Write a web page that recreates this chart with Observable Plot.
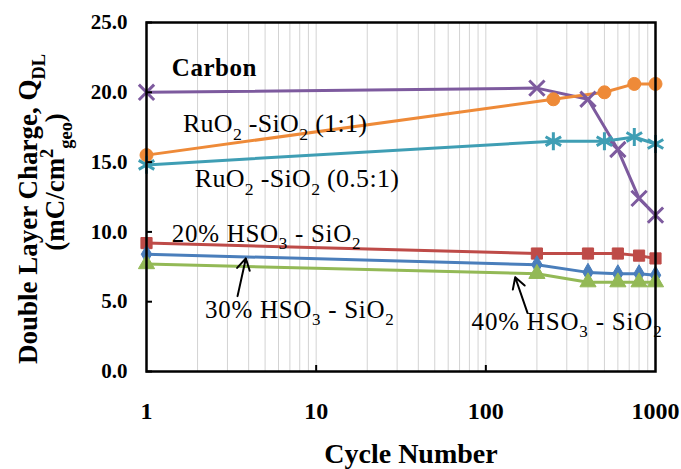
<!DOCTYPE html>
<html>
<head>
<meta charset="utf-8">
<script src="https://cdn.jsdelivr.net/npm/d3@7"></script>
<script src="https://cdn.jsdelivr.net/npm/@observablehq/plot@0.6"></script>
<style>
  html, body { margin: 0; padding: 0; background: #fff; }
  #chart svg { display: block; }
  #chart svg, #chart svg text, #chart svg tspan { font-family: "Liberation Serif" !important; }
</style>
</head>
<body>
<div id="chart"></div>
<script>
// ---- Data ----
const carbonCycles = [1, 200, 400, 600, 800, 1000];
const carbonQ      = [20.0, 20.3, 19.5, 15.9, 12.4, 11.2];

const ruo2_11Cycles = [1, 250, 500, 750, 1000];
const ruo2_11Q      = [15.5, 19.5, 20.0, 20.6, 20.6];

const ruo2_051Cycles = [1, 250, 500, 750, 1000];
const ruo2_051Q      = [14.8, 16.5, 16.5, 16.8, 16.3];

const hsoCycles = [1, 200, 400, 600, 800, 1000];
const hso20Q    = [9.2, 8.45, 8.45, 8.45, 8.3, 8.1];
const hso30Q    = [8.4, 7.65, 7.1, 7.0, 7.0, 6.9];
const hso40Q    = [7.7, 7.0, 6.4, 6.4, 6.4, 6.4];

const yTicks = [0, 5, 10, 15, 20, 25];
const xTicks = [1, 10, 100, 1000];
const xMinorGrid = [2,3,4,5,6,7,8,9,10,20,30,40,50,60,70,80,90,100,200,300,400,500,600,700,800,900];

const series = [
  {name: "Carbon",            cycles: carbonCycles,   q: carbonQ,   color: "#7D5A9E", symbol: "times",    r: 7,   stroked: true},
  {name: "RuO2-SiO2 (1:1)",   cycles: ruo2_11Cycles,  q: ruo2_11Q,  color: "#EE8A38", symbol: "circle",   r: 6.5},
  {name: "RuO2-SiO2 (0.5:1)", cycles: ruo2_051Cycles, q: ruo2_051Q, color: "#3F9EB4", symbol: "asterisk", r: 8.5, stroked: true},
  {name: "20% HSO3 - SiO2",   cycles: hsoCycles,      q: hso20Q,    color: "#BE4B48", symbol: "square",   r: 6.3},
  {name: "30% HSO3 - SiO2",   cycles: hsoCycles,      q: hso30Q,    color: "#4A7EBB", symbol: "diamond",  r: 5.5},
  {name: "40% HSO3 - SiO2",   cycles: hsoCycles,      q: hso40Q,    color: "#93B956", symbol: "triangle", r: 6}
];

// Annotation labels (anchored in data coordinates) and arrows
const labels = [
  {x: 1.42, y: 21.1, size: 25, spacing: 0.5, weight: "bold",   parts: [["Carbon"]]},
  {x: 1.65, y: 17.1, size: 26, spacing: 0.3, weight: "normal", parts: [["RuO"], ["2", "sub"], [" -SiO"], ["2", "sub"], [" (1:1)"]]},
  {x: 1.94, y: 13.2, size: 26, spacing: 0.3, weight: "normal", parts: [["RuO"], ["2", "sub"], [" -SiO"], ["2", "sub"], [" (0.5:1)"]]},
  {x: 1.42, y: 9.25, size: 25, spacing: 0.7, weight: "normal", parts: [["20% HSO"], ["3", "sub"], [" - SiO"], ["2", "sub"]]},
  {x: 2.23, y: 3.8,  size: 25, spacing: 0.7, weight: "normal", parts: [["30% HSO"], ["3", "sub"], [" - SiO"], ["2", "sub"]]},
  {x: 83,   y: 2.95, size: 25, spacing: 0.8, weight: "normal", parts: [["40% HSO"], ["3", "sub"], [" - SiO"], ["2", "sub"]]}
];
const arrows = [
  {x1: 3.44, y1: 5.4, x2: 3.85, y2: 8.1},
  {x1: 176,  y1: 4.2, x2: 149,  y2: 6.75}
];

const rows = series.flatMap(s => s.cycles.map((c, i) => ({name: s.name, cycle: c, q: s.q[i]})));
const FONT = '"Liberation Serif"';

const plot = Plot.plot({
  width: 681,
  height: 469,
  marginLeft: 146,
  marginRight: 26,
  marginTop: 22,
  marginBottom: 98,
  style: {background: "#fff", color: "#000", fontFamily: "Liberation Serif"},
  x: {type: "log", domain: [1, 1000]},
  y: {domain: [0, 25]},
  marks: [
    Plot.ruleX(xMinorGrid, {stroke: "#d3d3d3", strokeWidth: 1}),
    ...series.map(s => Plot.line(rows.filter(d => d.name === s.name), {
      x: "cycle", y: "q", stroke: s.color, strokeWidth: 3
    })),
    ...series.map(s => Plot.dot(rows.filter(d => d.name === s.name), {
      x: "cycle", y: "q", symbol: () => s.symbol, r: s.r,
      fill: s.stroked ? "none" : s.color,
      stroke: s.color,
      strokeWidth: s.stroked ? 3 : 1
    })),
    Plot.frame({stroke: "#000", strokeWidth: 2.5}),
    Plot.axisY(yTicks, {tickSize: 6, dx: 6, text: null, strokeWidth: 2, label: null}),
    Plot.axisY(yTicks, {tickSize: 0, tickPadding: 19, tickFormat: d => d.toFixed(1),
      fontSize: 21, fontWeight: "bold", fontFamily: "Liberation Serif", label: null}),
    Plot.axisX([10, 100], {tickSize: 6, dy: -6, text: null, strokeWidth: 2, label: null}),
    Plot.axisX(xTicks, {tickSize: 0, tickPadding: 30, tickFormat: d => String(d),
      fontSize: 24, fontWeight: "bold", fontFamily: "Liberation Serif", label: null}),
    Plot.arrow(arrows, {x1: "x1", y1: "y1", x2: "x2", y2: "y2",
      stroke: "#000", strokeWidth: 2, headLength: 11})
  ]
});
plot.setAttribute("font-family", "Liberation Serif");

document.getElementById("chart").appendChild(plot);

// ---- rich text (sub/superscripts) drawn with the plot's own scales ----
const svg = d3.select(plot);
const xs = plot.scale("x"), ys = plot.scale("y");

function richText(g, x, y, parts, size, weight, opts = {}) {
  const t = g.append("text")
    .attr("x", x).attr("y", y)
    .attr("text-anchor", "start")
    .attr("font-family", "Liberation Serif")
    .style("font-family", FONT)
    .attr("font-size", size)
    .attr("font-weight", weight)
    .attr("fill", "#000");
  if (opts.spacing) t.attr("letter-spacing", opts.spacing);
  let shift = 0;
  for (const [str, kind] of parts) {
    const ts = t.append("tspan").text(str);
    const target = kind === "sub" ? size * 0.3 : kind === "sup" ? -size * 0.42 : 0;
    if (target !== shift) ts.attr("dy", target - shift);
    shift = target;
    if (kind) ts.attr("font-size", size * 0.68);
  }
  if (opts.center) {
    const w = t.node().getComputedTextLength();
    t.attr("x", x - w / 2);
  }
  if (opts.rotate != null) t.attr("transform", `rotate(${opts.rotate}, ${x}, ${y})`);
  return t;
}

const g = svg.append("g").attr("class", "annotations");
for (const L of labels) {
  richText(g, xs.apply(L.x), ys.apply(L.y), L.parts, L.size, L.weight, {spacing: L.spacing});
}

// Axis titles
const titles = svg.append("g").attr("class", "titles");
richText(titles, 411, 463, [["Cycle Number"]], 28, "bold", {center: true});
richText(titles, 37, 209, [["Double Layer Charge, Q"], ["DL", "sub"]], 27, "bold", {center: true, rotate: -90});
richText(titles, 64, 182, [["(mC/cm"], ["2", "sup"], ["geo", "sub"], [")"]], 27, "bold", {center: true, rotate: -90});

svg.selectAll("text").attr("font-family", "Liberation Serif").style("font-family", FONT);
</script>
</body>
</html>
